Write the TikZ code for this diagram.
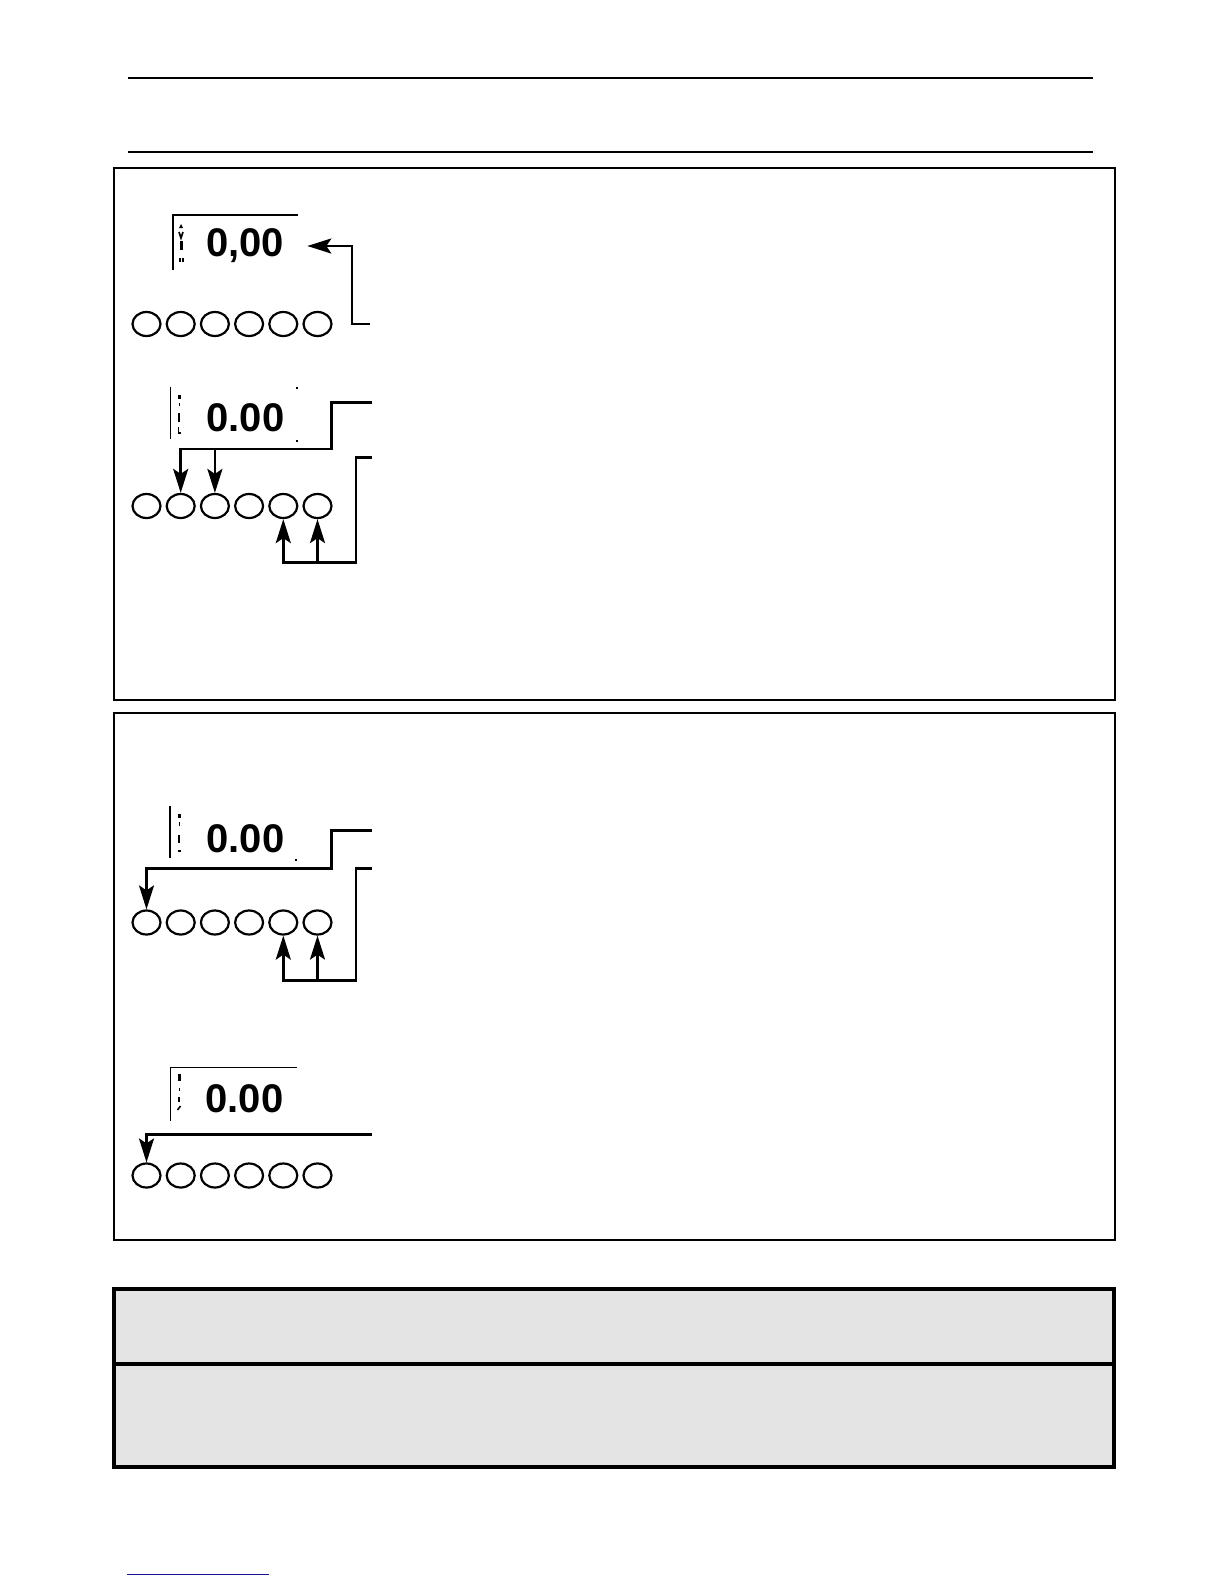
\documentclass[tikz,border=0pt]{standalone}
\usepackage{fontspec}
\newfontfamily\lcdfont{Liberation Sans}
\usetikzlibrary{shapes.geometric, arrows.meta, calc}
\definecolor{fondgris}{RGB}{228,228,228}
\definecolor{bleulien}{RGB}{20,20,150}

\begin{document}
\begin{tikzpicture}[
  x=0.5pt, y=-0.5pt,
  touche/.style={ellipse, draw, line width=1.1pt, inner sep=0pt,
                 minimum width=14pt, minimum height=12pt},
  chiffres/.style={font=\lcdfont\bfseries\fontsize{20}{20}\selectfont,
                   inner sep=0pt},
  cadre/.style={line width=0.7pt},
  fleche/.style={line width=1.3pt,
                 -{Stealth[length=12pt, width=7.5pt, inset=2.5pt]}},
  trait/.style={line width=1.3pt}
]
  \useasboundingbox (0,0) rectangle (1224,1584);

  %=========================================================
  % 0. Filets de la page et cadres
  %=========================================================
  \draw[line width=1pt] (128,77.7) -- (1093,77.7);
  \draw[line width=1pt] (128,151.7) -- (1093,151.7);
  \draw[line width=1pt] (114,168) rectangle (1115,700);
  \draw[line width=1pt] (114,712.7) rectangle (1115,1240);
  \filldraw[fill=fondgris, line width=1.6pt]
    (114,1289) rectangle (1114,1467);
  \draw[line width=1.6pt] (114,1364) -- (1114,1364);
  \draw[line width=0.7pt, draw=bleulien] (127,1574.7) -- (269,1574.7);

  %=========================================================
  % 1. Afficheur 1 et la fleche de retour
  %=========================================================
  \draw[cadre] (173,270) |- (298,215);
  \node[chiffres] (d1) at (245,246) {0,00};
  \fill (179,228) -- (181,224) -- (183,228) -- cycle;
  \draw[line width=0.8pt] (179,232) -- (181,238) -- (183,232);
  \fill (180,241) rectangle (182.5,250);
  \fill (179,258) rectangle (180.5,262);
  \fill (182,258) rectangle (183.5,262);

  \foreach \i in {1,...,6}
    \node[touche] (b1-\i) at ({146.5+34.2*(\i-1)},324) {};

  \coordinate (in1) at (370,324);
  \draw[fleche] (in1) -- ++(-18,0) |- ([xshift=11.5pt]d1.east);

  %=========================================================
  % 2. Afficheur 2 : touches 2,3 et 5,6
  %=========================================================
  \draw[cadre] (170.7,386.7) -- (170.7,439.3);
  \fill (296,387) rectangle (297.5,388.5);
  \fill (296,440) rectangle (297.5,441.5);
  \node[chiffres] (d2) at (245.5,418) {0.00};
  \fill (178,395) rectangle (181,398.5);
  \fill (178.5,403) rectangle (180,406);
  \fill (177.5,413) rectangle (180,421.5);
  \fill (177.5,427) rectangle (179,432);
  \fill (178,432) rectangle (181,433.5);

  \foreach \i in {1,...,6}
    \node[touche] (b2-\i) at ({146.5+34.2*(\i-1)},506) {};

  \coordinate (in2a) at (372,402.7);
  \coordinate (k2) at (331.7,449);
  \draw[fleche] (in2a) -| (k2) -| (b2-2.north);
  \draw[fleche] (k2 -| b2-3.north) -- (b2-3.north);

  \coordinate (in2b) at (372,457.3);
  \coordinate (j2) at (356,562.7);
  \draw[fleche] (in2b) -| (j2) -| (b2-5.south);
  \draw[fleche] (j2 -| b2-6.south) -- (b2-6.south);

  %=========================================================
  % 3. Afficheur 3 : touche 1 et touches 5,6
  %=========================================================
  \draw[cadre] (170,806) -- (170,858.3);
  \fill (295,859) rectangle (297,861);
  \node[chiffres] (d3) at (245.5,838.3) {0.00};
  \fill (177.5,814) rectangle (180.5,818);
  \fill (178.5,822) rectangle (180,826);
  \fill (177.5,835) rectangle (180,843);
  \fill (178,850) rectangle (181,851.5);

  \foreach \i in {1,...,6}
    \node[touche] (b3-\i) at ({146.5+34.2*(\i-1)},922.5) {};

  \coordinate (in3a) at (372,830.7);
  \coordinate (k3) at (331.7,868.3);
  \draw[fleche] (in3a) -| (k3) -| (b3-1.north);

  \coordinate (in3b) at (372,868.3);
  \coordinate (j3) at (356,980.6);
  \draw[fleche] (in3b) -| (j3) -| (b3-5.south);
  \draw[fleche] (j3 -| b3-6.south) -- (b3-6.south);

  %=========================================================
  % 4. Afficheur 4 : touche 1
  %=========================================================
  \draw[cadre] (170.7,1121) |- (296.7,1067.7);
  \node[chiffres] (d4) at (244.5,1098.3) {0.00};
  \fill (178,1074) rectangle (180.5,1081);
  \fill (178.5,1088) rectangle (180,1091);
  \fill (177.5,1097) rectangle (180,1102);
  \draw[line width=0.8pt] (177.5,1110) -- (180.5,1106);

  \foreach \i in {1,...,6}
    \node[touche] (b4-\i) at ({146.5+34.2*(\i-1)},1175.5) {};

  \coordinate (in4) at (372,1134.3);
  \draw[fleche] (in4) -| (b4-1.north);

\end{tikzpicture}
\end{document}
